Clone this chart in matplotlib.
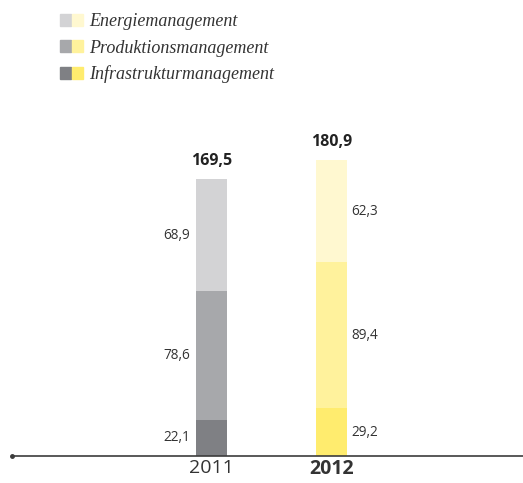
import matplotlib.pyplot as plt
from matplotlib.patches import Patch
from matplotlib.legend_handler import HandlerTuple

years = ["2011", "2012"]
segments = ["Energiemanagement", "Produktionsmanagement", "Infrastrukturmanagement"]
infrastruktur = [22.1, 29.2]
produktion = [78.6, 89.4]
energie = [68.9, 62.3]
totals = [169.5, 180.9]

# bottom -> top stacking order
stack = [infrastruktur, produktion, energie]
grays = ["#7f8084", "#a7a8ab", "#d3d3d5"]
yellows = ["#ffec6e", "#fff29c", "#fff8d0"]

plt.rcParams['font.family'] = ['Open Sans', 'DejaVu Sans']

fig = plt.figure(figsize=(5.23, 4.83), dpi=100)
ax = fig.add_axes([12 / 523, 27 / 483, 511 / 523, 456 / 483])

width = 31 / 120
bottoms = [0, 0]
for i, vals in enumerate(stack):
    cols = [grays[i], yellows[i]]
    ax.bar([0, 1], vals, width=width, bottom=bottoms, color=cols, linewidth=0)
    for j, v in enumerate(vals):
        y = bottoms[j] + v / 2
        lbl = f"{v:.1f}".replace(".", ",")
        if j == 0:
            ax.annotate(lbl, (j - width / 2, y), xytext=(-4, 0), textcoords="offset points",
                        ha="right", va="center", fontsize=9.8, color="#333333")
        else:
            ax.annotate(lbl, (j + width / 2, y), xytext=(3, 0), textcoords="offset points",
                        ha="left", va="center", fontsize=9.8, color="#333333")
    bottoms = [b + v for b, v in zip(bottoms, vals)]

for j, t in enumerate(totals):
    ax.annotate(f"{t:.1f}".replace(".", ","), (j, t), xytext=(0, 13), textcoords="offset points",
                ha="center", va="center", fontsize=11.5, fontweight="bold", color="#222222")

ax.set_xlim(-199.5 / 120, 311.5 / 120)
ax.set_ylim(0, 456 / 1.635)

for s in ["top", "right", "left"]:
    ax.spines[s].set_visible(False)
ax.spines["bottom"].set_color("#3c3c3c")
ax.spines["bottom"].set_linewidth(1.2)
ax.plot([ax.get_xlim()[0]], [0], marker="o", ms=2.5, color="#3c3c3c", clip_on=False)

ax.set_yticks([])
ax.set_xticks([0, 1])
ax.set_xticklabels(years, fontsize=14, color="#333333")
ax.get_xticklabels()[1].set_fontweight("bold")
ax.tick_params(axis="x", length=0, pad=2.5)

handles = [(Patch(color=grays[i]), Patch(color=yellows[i])) for i in [2, 1, 0]]
leg = fig.legend(handles, segments, handler_map={tuple: HandlerTuple(ndivide=None, pad=0.05)},
                 loc="upper left", bbox_to_anchor=(60 / 523, 1 - 13.5 / 483), frameon=False,
                 borderpad=0, borderaxespad=0,
                 handlelength=1.27, handleheight=0.62, handletextpad=0.33, labelspacing=0.5,
                 prop={"family": "Liberation Serif", "style": "italic", "size": 13})
for txt in leg.get_texts():
    txt.set_color("#333333")

fig.savefig("out.png", dpi=100)
